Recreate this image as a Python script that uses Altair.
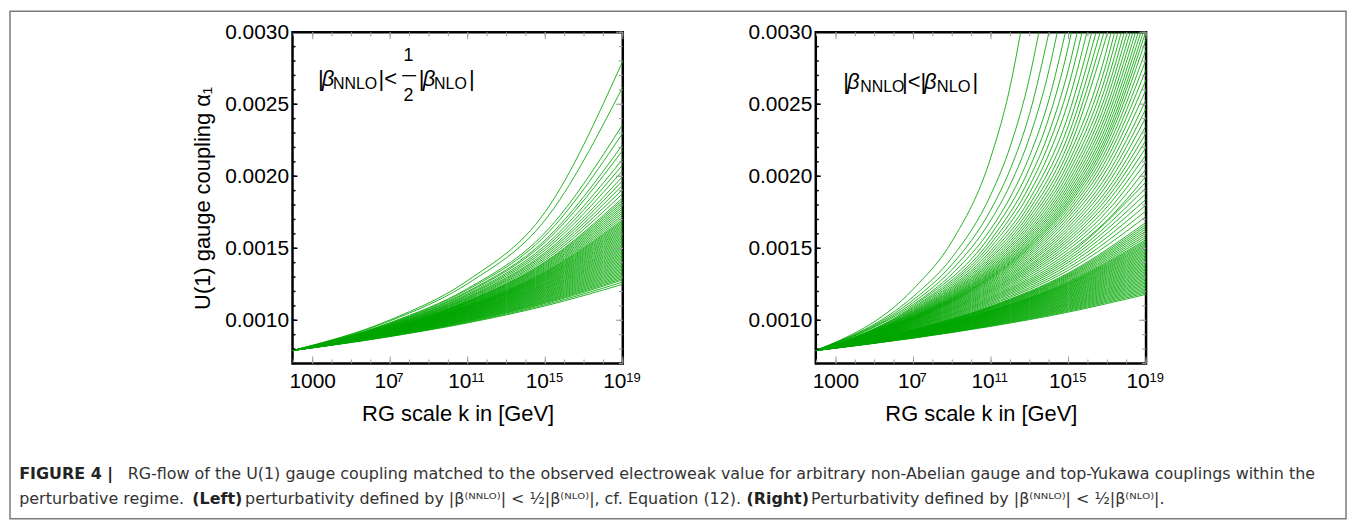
import altair as alt
import pandas as pd

FONT = "Liberation Sans"
CAP_FONT = "DejaVu Sans"
GREEN = "#00a600"

# ---------------- data ----------------
K_START = 91.19          # curves start at the Z mass
A_START = 0.00079        # common starting value of alpha_1

# Left panel: alpha_1 read at k = 1e7, 1e11, 1e15, 1e19 (one entry per curve)
left_at_1e7 = [0.001003, 0.000996, 0.000984, 0.000980, 0.000976, 0.000974, 0.000970, 0.000967, 0.000965, 0.000962,
               0.000960, 0.000958, 0.000956, 0.000954, 0.000951, 0.000949, 0.000946, 0.000944, 0.000941, 0.000939,
               0.000937, 0.000935, 0.000933, 0.000931, 0.000929, 0.000927, 0.000925, 0.000923, 0.000921, 0.000919,
               0.000916, 0.000914, 0.000912, 0.000909, 0.000907, 0.000904, 0.000902, 0.000899, 0.000896, 0.000894,
               0.000891, 0.000887,
               0.000950, 0.0009475, 0.000945, 0.0009425, 0.000940, 0.000938, 0.000936, 0.000934, 0.000932, 0.000930,
               0.000928, 0.000926, 0.000924, 0.000922, 0.000920, 0.0009175, 0.000915, 0.000913, 0.0009105, 0.000908,
               0.0009055, 0.000903, 0.0009005, 0.0008975, 0.000895, 0.0008925, 0.000889]
left_at_1e11 = [0.001276, 0.001255, 0.001221, 0.001212, 0.001200, 0.001194, 0.001184, 0.001177, 0.001171, 0.001163,
                0.001158, 0.001152, 0.001147, 0.001141, 0.001135, 0.001129, 0.001123, 0.001116, 0.001110, 0.001103,
                0.001099, 0.001094, 0.001090, 0.001085, 0.001080, 0.001075, 0.001070, 0.001065, 0.001060, 0.001055,
                0.001050, 0.001044, 0.001039, 0.001033, 0.001028, 0.001022, 0.001016, 0.001010, 0.001004, 0.000998,
                0.000991, 0.000982,
                0.001132, 0.001126, 0.0011195, 0.001113, 0.0011065, 0.001101, 0.0010965, 0.001092, 0.0010875,
                0.0010825, 0.0010775, 0.0010725, 0.0010675, 0.0010625, 0.0010575, 0.0010525, 0.001047, 0.0010415,
                0.001036, 0.0010305, 0.001025, 0.001019, 0.001013, 0.001007, 0.001001, 0.0009945, 0.0009865]
left_at_1e15 = [0.001753, 0.001697, 0.001610, 0.001588, 0.001558, 0.001543, 0.001520, 0.001504, 0.001488, 0.001471,
                0.001459, 0.001446, 0.001433, 0.001420, 0.001407, 0.001394, 0.001380, 0.001366, 0.001352, 0.001338,
                0.001329, 0.001319, 0.001309, 0.001300, 0.001290, 0.001280, 0.001270, 0.001259, 0.001249, 0.001239,
                0.001228, 0.001218, 0.001207, 0.001196, 0.001185, 0.001174, 0.001163, 0.001152, 0.001140, 0.001129,
                0.001117, 0.001100,
                0.0014005, 0.001387, 0.001373, 0.001359, 0.001345, 0.0013335, 0.001324, 0.001314, 0.0013045,
                0.001295, 0.001285, 0.001275, 0.0012645, 0.001254, 0.001244, 0.0012335, 0.001223, 0.0012125,
                0.0012015, 0.0011905, 0.0011795, 0.0011685, 0.0011575, 0.001146, 0.0011345, 0.001123, 0.0011085]
left_at_1e19 = [0.00280, 0.00262, 0.00236, 0.00230, 0.00222, 0.00218, 0.00212, 0.00208, 0.00204, 0.00200,
                0.00197, 0.00194, 0.00191, 0.00188, 0.00185, 0.00182, 0.00179, 0.00176, 0.00173, 0.00170,
                0.00168, 0.00166, 0.00164, 0.00162, 0.00160, 0.00158, 0.00156, 0.00154, 0.00152, 0.00150,
                0.00148, 0.00146, 0.00144, 0.00142, 0.00140, 0.00138, 0.00136, 0.00134, 0.00132, 0.00130,
                0.00128, 0.00125,
                0.001835, 0.001805, 0.001775, 0.001745, 0.001715, 0.00169, 0.00167, 0.00165, 0.00163, 0.00161,
                0.00159, 0.00157, 0.00155, 0.00153, 0.00151, 0.00149, 0.00147, 0.00145, 0.00143, 0.00141,
                0.00139, 0.00137, 0.00135, 0.00133, 0.00131, 0.00129, 0.001265]

# Right panel, curves that stay inside the frame: alpha_1 at k = 1e7, 1e11, 1e13, 1e15, 1e17, 1e19
right_at_1e7 = [0.001008, 0.001006, 0.001003, 0.001001, 0.000998, 0.000995, 0.000992, 0.000989, 0.000986, 0.000983,
                0.000980, 0.000978, 0.000975, 0.000972, 0.000969, 0.000966, 0.000962, 0.000959, 0.000957, 0.000954,
                0.000951, 0.000947, 0.000944, 0.000940, 0.000937, 0.000934, 0.000931, 0.000928, 0.000925, 0.000923,
                0.000921, 0.000919, 0.000916, 0.000914, 0.000912, 0.000909, 0.000907, 0.000904, 0.000902, 0.000899,
                0.000897, 0.000894, 0.000891, 0.000888, 0.000885, 0.000882, 0.000879, 0.000876,
                0.0009355, 0.0009325, 0.0009295, 0.0009265, 0.000924, 0.000922, 0.000920, 0.0009175, 0.000915,
                0.000913, 0.0009105, 0.000908, 0.0009055, 0.000903, 0.0009005, 0.000898, 0.0008955, 0.0008925,
                0.0008895, 0.0008865, 0.0008835, 0.0008805, 0.0008775]
right_at_1e11 = [0.001292, 0.001285, 0.001277, 0.001269, 0.001261, 0.001253, 0.001244, 0.001236, 0.001228, 0.001220,
                 0.001212, 0.001205, 0.001197, 0.001189, 0.001181, 0.001172, 0.001164, 0.001156, 0.001149, 0.001141,
                 0.001133, 0.001125, 0.001116, 0.001108, 0.001099, 0.001092, 0.001085, 0.001078, 0.001070, 0.001065,
                 0.001060, 0.001055, 0.001050, 0.001044, 0.001039, 0.001033, 0.001028, 0.001022, 0.001016, 0.001010,
                 0.001004, 0.000998, 0.000991, 0.000985, 0.000978, 0.000972, 0.000965, 0.000958,
                 0.0010955, 0.0010885, 0.0010815, 0.001074, 0.0010675, 0.0010625, 0.0010575, 0.0010525, 0.001047,
                 0.0010415, 0.001036, 0.0010305, 0.001025, 0.001019, 0.001013, 0.001007, 0.001001, 0.0009945,
                 0.000988, 0.0009815, 0.000975, 0.0009685, 0.0009615]
right_at_1e13 = [0.001503, 0.001491, 0.001479, 0.001466, 0.001453, 0.001439, 0.001425, 0.001412, 0.001400, 0.001386,
                 0.001375, 0.001363, 0.001351, 0.001339, 0.001326, 0.001313, 0.001299] + [None] * 54
right_at_1e15 = [0.001797, 0.001777, 0.001756, 0.001735, 0.001713, 0.001691, 0.001668, 0.001647, 0.001627, 0.001606,
                 0.001588, 0.001569, 0.001551, 0.001531, 0.001512, 0.001492, 0.001471, 0.001455, 0.001437, 0.001420,
                 0.001403, 0.001385, 0.001366, 0.001348, 0.001329, 0.001314, 0.001300, 0.001285, 0.001270, 0.001259,
                 0.001249, 0.001239, 0.001228, 0.001218, 0.001207, 0.001196, 0.001185, 0.001174, 0.001163, 0.001152,
                 0.001140, 0.001129, 0.001117, 0.001106, 0.001094, 0.001082, 0.001070, 0.001057,
                 0.0013215, 0.001307, 0.0012925, 0.0012775, 0.0012645, 0.001254, 0.001244, 0.0012335, 0.001223,
                 0.0012125, 0.0012015, 0.0011905, 0.0011795, 0.0011685, 0.0011575, 0.001146, 0.0011345, 0.001123,
                 0.0011115, 0.0011, 0.001088, 0.001076, 0.0010635]
right_at_1e17 = [0.002233, 0.002197, 0.002161, 0.002124, 0.002087, 0.002049, 0.002010, 0.001976, 0.001943, 0.001908,
                 0.001878, 0.001849, 0.001819, 0.001789, 0.001758, 0.001727, 0.001695] + [None] * 54
right_at_1e19 = [0.00295, 0.00288, 0.00281, 0.00274, 0.00267, 0.00260, 0.00253, 0.00247, 0.00241, 0.00235,
                 0.00230, 0.00225, 0.00220, 0.00215, 0.00210, 0.00205, 0.00200, 0.00196, 0.00192, 0.00188,
                 0.00184, 0.00180, 0.00176, 0.00172, 0.00168, 0.00165, 0.00162, 0.00159, 0.00156, 0.00154,
                 0.00152, 0.00150, 0.00148, 0.00146, 0.00144, 0.00142, 0.00140, 0.00138, 0.00136, 0.00134,
                 0.00132, 0.00130, 0.00128, 0.00126, 0.00124, 0.00122, 0.00120, 0.00118,
                 0.001665, 0.001635, 0.001605, 0.001575, 0.00155, 0.00153, 0.00151, 0.00149, 0.00147,
                 0.00145, 0.00143, 0.00141, 0.00139, 0.00137, 0.00135, 0.00133, 0.00131, 0.00129,
                 0.00127, 0.00125, 0.00123, 0.00121, 0.00119]

# Right panel, curves leaving through the top of the frame (alpha_1 = 0.0030) at k = exit
ALPHA_TOP = 0.0030
right_exit_k = [3.39e12, 2.95e13, 9.77e13, 2.63e14, 6.92e14, 1.41e15, 2.82e15, 5.01e15, 8.91e15,
                1.58e16, 2.63e16, 4.27e16, 6.76e16, 1.05e17, 1.58e17, 2.40e17, 3.55e17, 5.25e17,
                7.59e17, 1.07e18, 1.51e18, 2.09e18, 2.88e18, 3.98e18, 5.37e18, 7.24e18, 9.55e18]
rtop_at_1e7 = [0.001218, 0.001166, 0.001143, 0.001125, 0.001110, 0.001100, 0.001090, 0.001083, 0.001075,
               0.001069, 0.001063, 0.001058, 0.001053, 0.001049, 0.001045, 0.001041, 0.001037, 0.001034,
               0.001030, 0.001027, 0.001025, 0.001022, 0.001020, 0.001017, 0.001015, 0.001013, 0.001010]
rtop_at_1e9 = [0.001551, 0.001438, 0.001389, 0.001353, 0.001323] + [None] * 22
rtop_at_1e11 = [0.002135, 0.001875, 0.001770, 0.001697, 0.001636, 0.001596, 0.001560, 0.001533, 0.001508,
                0.001484, 0.001465, 0.001447, 0.001431, 0.001416, 0.001403, 0.001391, 0.001379, 0.001368,
                0.001358, 0.001349, 0.001340, 0.001332, 0.001325, 0.001317, 0.001310, 0.001304, 0.001298]
rtop_at_1e12 = [0.002631, 0.002210, 0.002051, 0.001944, 0.001856] + [None] * 22
rtop_at_1e13 = [None, 0.002693, 0.002438, 0.002275, 0.002144, 0.002061, 0.001990, 0.001936, 0.001887,
                0.001842, 0.001806, 0.001773, 0.001744, 0.001718, 0.001694, 0.001672, 0.001652, 0.001632,
                0.001615, 0.001600, 0.001585, 0.001571, 0.001558, 0.001545, 0.001534, 0.001523, 0.001513]
rtop_at_1e14 = [None, None, None, 0.002742, 0.002537, 0.002412, 0.002307, 0.002229, 0.002158] + [None] * 18
rtop_at_1e15 = [None, None, None, None, None, 0.002908, 0.002745, 0.002626, 0.002521,
                0.002428, 0.002354, 0.002289, 0.002232, 0.002182, 0.002137, 0.002095, 0.002058, 0.002024,
                0.001992, 0.001964, 0.001938, 0.001914, 0.001891, 0.001869, 0.001850, 0.001831, 0.001814]
rtop_at_1e17 = [None, None, None, None, None, None, None, None, None,
                None, None, None, None, None, 0.002894, 0.002807, 0.002730, 0.002660,
                0.002598, 0.002545, 0.002493, 0.002448, 0.002406, 0.002365, 0.002329, 0.002294, 0.002264]

# axis / frame tick positions and labels
X_MAJOR = [1e3, 1e7, 1e11, 1e15, 1e19]
X_BASE_LABEL = ["1000", "10", "10", "10", "10"]
X_EXPONENT = ["", "7", "11", "15", "19"]
X_DECADES = [1e2, 1e3, 1e4, 1e5, 1e6, 1e7, 1e8, 1e9, 1e10, 1e11, 1e12, 1e13, 1e14, 1e15, 1e16, 1e17, 1e18, 1e19]
Y_MAJOR = [0.0010, 0.0015, 0.0020, 0.0025, 0.0030]
Y_MINOR = [0.0007, 0.0008, 0.0009, 0.0010, 0.0011, 0.0012, 0.0013, 0.0014, 0.0015, 0.0016, 0.0017, 0.0018,
           0.0019, 0.0020, 0.0021, 0.0022, 0.0023, 0.0024, 0.0025, 0.0026, 0.0027, 0.0028, 0.0029, 0.0030]

CAPTION_1 = ["FIGURE 4 |",
             "RG-flow of the U(1) gauge coupling matched to the observed electroweak value for arbitrary "
             "non-Abelian gauge and top-Yukawa couplings within the"]
CAPTION_2 = ["perturbative regime.", "(Left)",
             "perturbativity defined by |β⁽ᴺᴺᴸᴼ⁾| < ½|β⁽ᴺᴸᴼ⁾|, cf. Equation (12).",
             "(Right)", "Perturbativity defined by |β⁽ᴺᴺᴸᴼ⁾| < ½|β⁽ᴺᴸᴼ⁾|."]

# ---------------- build tables ----------------
rows = []
for i in range(len(left_at_1e19)):
    pts = [(K_START, A_START), (1e7, left_at_1e7[i]), (1e11, left_at_1e11[i]),
           (1e15, left_at_1e15[i]), (1e19, left_at_1e19[i])]
    for k, a in pts:
        rows.append({"curve": f"L{i}", "k": k, "alpha": a})
left_df = pd.DataFrame(rows)

rows = []
for i in range(len(right_at_1e19)):
    pts = [(K_START, A_START), (1e7, right_at_1e7[i]), (1e11, right_at_1e11[i]), (1e13, right_at_1e13[i]),
           (1e15, right_at_1e15[i]), (1e17, right_at_1e17[i]), (1e19, right_at_1e19[i])]
    for k, a in pts:
        if a is not None:
            rows.append({"curve": f"R{i}", "k": k, "alpha": a})
for i in range(len(right_exit_k)):
    pts = [(K_START, A_START), (1e7, rtop_at_1e7[i]), (1e9, rtop_at_1e9[i]), (1e11, rtop_at_1e11[i]),
           (1e12, rtop_at_1e12[i]), (1e13, rtop_at_1e13[i]), (1e14, rtop_at_1e14[i]),
           (1e15, rtop_at_1e15[i]), (1e17, rtop_at_1e17[i]), (right_exit_k[i], ALPHA_TOP)]
    for k, a in pts:
        if a is not None and k <= right_exit_k[i]:
            rows.append({"curve": f"T{i}", "k": k, "alpha": a})
right_df = pd.DataFrame(rows).sort_values(["curve", "k"])

xlab_df = pd.DataFrame({"k": X_MAJOR, "base": X_BASE_LABEL, "exp": X_EXPONENT})

# ---------------- chart ----------------
W, H = 332, 333
XS = alt.Scale(type="log", domain=[K_START, 1e19], nice=False)
YS = alt.Scale(domain=[0.0007, 0.0030], nice=False, zero=False)
ONE = pd.DataFrame({"v": [0]})


def txt(s, x, y, size, weight="normal", style="normal", align="left", color="black", font=FONT):
    return alt.Chart(ONE).mark_text(text=s, align=align, baseline="middle", font=font, fontSize=size,
                                    fontWeight=weight, fontStyle=style, color=color).encode(
        x=alt.value(x), y=alt.value(y))


def encodings(ytitle):
    x = alt.X("k:Q", scale=XS, axis=alt.Axis(values=X_MAJOR, labels=False, title="RG scale k in [GeV]",
                                              titlePadding=40))
    if ytitle:
        yax = alt.Axis(values=Y_MAJOR, format=".4f", title="U(1) gauge coupling α₁", titlePadding=10)
    else:
        yax = alt.Axis(values=Y_MAJOR, format=".4f", title=None)
    return x, alt.Y("alpha:Q", scale=YS, axis=yax)


def x_labels(xe):
    base = alt.Chart(xlab_df)
    lab_kw = dict(baseline="middle", font=FONT, color="black")
    return [
        base.transform_filter("datum.k == 1000").mark_text(align="center", fontSize=21, **lab_kw).encode(
            x=xe, y=alt.value(H + 19), text="base:N"),
        base.transform_filter("datum.k == 1e7").mark_text(align="center", fontSize=21, dx=-4, **lab_kw).encode(
            x=xe, y=alt.value(H + 19), text="base:N"),
        base.transform_filter("datum.k == 1e7").mark_text(align="left", fontSize=13, dx=6, **lab_kw).encode(
            x=xe, y=alt.value(H + 15), text="exp:N"),
        base.transform_filter("datum.k > 1e7").mark_text(align="center", fontSize=21, dx=-8, **lab_kw).encode(
            x=xe, y=alt.value(H + 19), text="base:N"),
        base.transform_filter("datum.k > 1e7").mark_text(align="left", fontSize=13, dx=3.5, **lab_kw).encode(
            x=xe, y=alt.value(H + 15), text="exp:N"),
    ]


def frame_ticks(xe, ye):
    xt = pd.DataFrame({"k": X_DECADES})
    xm = pd.DataFrame({"k": X_MAJOR})
    yt = pd.DataFrame({"alpha": Y_MINOR})
    ym = pd.DataFrame({"alpha": Y_MAJOR})
    gray = "#9a9a9a"
    return [
        alt.Chart(xt).mark_rule(color=gray, strokeWidth=1).encode(x=xe, y=alt.value(H), y2=alt.value(H - 4)),
        alt.Chart(xm).mark_rule(color=gray, strokeWidth=1).encode(x=xe, y=alt.value(H), y2=alt.value(H - 7)),
        alt.Chart(xt).mark_rule(color=gray, strokeWidth=1).encode(x=xe, y=alt.value(0), y2=alt.value(4)),
        alt.Chart(xm).mark_rule(color=gray, strokeWidth=1).encode(x=xe, y=alt.value(0), y2=alt.value(7)),
        alt.Chart(yt).mark_rule(color="black", strokeWidth=1.5).encode(y=ye, x=alt.value(0), x2=alt.value(3)),
        alt.Chart(ym).mark_rule(color="black", strokeWidth=1.5).encode(y=ye, x=alt.value(0), x2=alt.value(5)),
        alt.Chart(yt).mark_rule(color=gray, strokeWidth=1).encode(y=ye, x=alt.value(W), x2=alt.value(W - 4)),
        alt.Chart(ym).mark_rule(color=gray, strokeWidth=1).encode(y=ye, x=alt.value(W), x2=alt.value(W - 7)),
    ]


def panel(df, ytitle, labels):
    x, y = encodings(ytitle)
    lines = alt.Chart(df).mark_line(clip=True, interpolate="monotone", strokeWidth=0.95, color=GREEN,
                                    opacity=0.9).encode(x=x, y=y, detail="curve:N")
    return alt.layer(lines, *frame_ticks(x, y), *x_labels(x), *labels).properties(width=W, height=H)


left_labels = [
    txt("|", 25.5, 47, 22), txt("β", 29.5, 47, 22, style="italic"), txt("NNLO", 40.6, 52, 16),
    txt("|<", 86.5, 47, 22),
    txt("1", 116.5, 23.5, 18, align="center"), txt("2", 116.5, 64.3, 18, align="center"),
    alt.Chart(ONE).mark_rule(color="black", strokeWidth=1.3).encode(
        x=alt.value(110.3), x2=alt.value(124.3), y=alt.value(43.7)),
    txt("|", 126.8, 47, 22), txt("β", 130.8, 47, 22, style="italic"), txt("NLO", 142.3, 52, 16),
    txt("|", 177.5, 47, 22),
]
right_labels = [
    txt("|", 27.5, 50, 22), txt("β", 31.5, 50, 22, style="italic"), txt("NNLO", 44.7, 55, 16),
    txt("|<|", 86.7, 50, 22), txt("β", 108.7, 50, 22, style="italic"), txt("NLO", 121.7, 55, 16.5),
    txt("|", 157.5, 50, 22),
]

left = panel(left_df, True, left_labels)
right = panel(right_df, False, right_labels)

CAP_COLOR = "#333333"
caption = alt.layer(
    alt.Chart(ONE).mark_rect(filled=False, color="#7a7a7a", strokeWidth=1.5).encode(
        x=alt.value(-284), x2=alt.value(1059), y=alt.value(-434), y2=alt.value(76)),
    txt(CAPTION_1[0], -274.7, 31, 16, weight="bold", color="#222222", font=CAP_FONT),
    txt(CAPTION_1[1], -165.7, 31, 16, color=CAP_COLOR, font=CAP_FONT),
    txt(CAPTION_2[0], -274.7, 56, 16, color=CAP_COLOR, font=CAP_FONT),
    txt(CAPTION_2[1], -100.7, 56, 16, weight="bold", color="#222222", font=CAP_FONT),
    txt(CAPTION_2[2], -47.7, 56, 16, color=CAP_COLOR, font=CAP_FONT),
    txt(CAPTION_2[3], 456.3, 56, 16, weight="bold", color="#222222", font=CAP_FONT),
    txt(CAPTION_2[4], 521.3, 56, 16, color=CAP_COLOR, font=CAP_FONT),
).properties(width=1059, height=60, view=alt.ViewBackground(stroke="transparent"))

top_row = alt.hconcat(left, right, spacing=194, bounds="flush")
# with flush bounds the nested row counts with zero height, so the spacing carries the panel height
chart = alt.vconcat(top_row, caption, spacing=H + 80, bounds="flush").properties(
    padding=0
).configure_view(stroke="black", strokeWidth=2.5).configure_axis(
    domain=False, ticks=False, grid=False, labelFont=FONT, labelFontSize=21, labelColor="black",
    labelPadding=4, titleFont=FONT, titleFontSize=22, titleFontWeight="normal", titleColor="black"
)

chart.save("out.html", embed_options={"renderer": "svg", "actions": False})
